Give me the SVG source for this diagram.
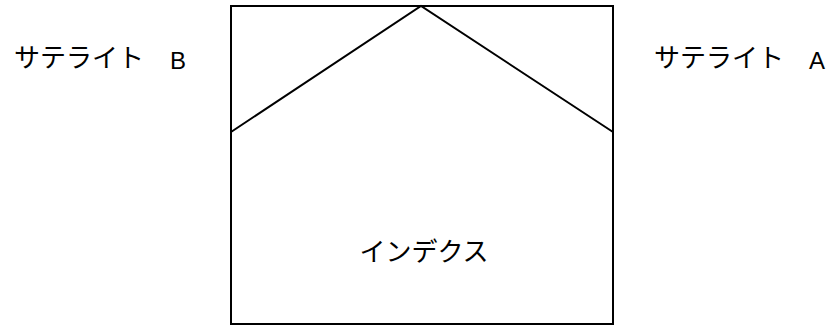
<svg xmlns="http://www.w3.org/2000/svg" width="840" height="325" viewBox="0 0 840 325">
<style>
.ln{fill:none;stroke:#000;stroke-width:2}
.jp{font-family:"Noto Sans CJK JP","Noto Sans",sans-serif;font-size:26px;fill:#000}
.lat{font-family:"Liberation Sans",Arial,sans-serif;font-size:24px;fill:#000}
</style>
<rect width="840" height="325" fill="#fff"/>
<g id="index">
<rect class="ln" x="231" y="6" width="382" height="318"/>
<text class="jp" x="424" y="261" text-anchor="middle">インデクス</text>
</g>
<g id="satellite-b">
<text class="jp" x="14" y="67">サテライト</text>
<text class="lat" x="170" y="69">B</text>
</g>
<g id="satellite-a">
<text class="jp" x="654" y="67">サテライト</text>
<text class="lat" x="809" y="69">A</text>
</g>
<g id="connectors">
<polyline class="ln" points="231,132 421,6 613,132"/>
</g>
</svg>
